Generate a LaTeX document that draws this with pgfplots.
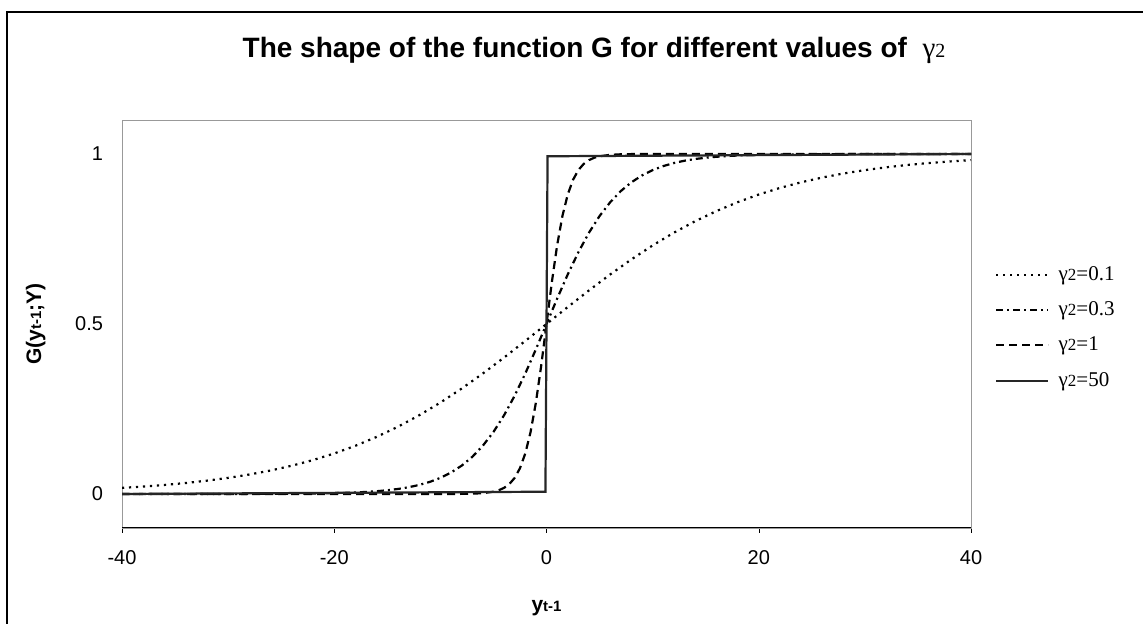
\documentclass[border=0pt]{standalone}
\usepackage{fontspec}
\setmainfont{Liberation Sans}
\newfontfamily\tms{Liberation Serif}
\usepackage{pgfplots}
\pgfplotsset{compat=1.18}

\begin{document}
\begin{tikzpicture}
% frame, bounding box and title in reference pixels (1px = 0.5pt),
% shifted so that the axis box corner (122,96) sits at the origin
\begin{scope}[x=0.5pt,y=0.5pt,shift={(-122,-96)}]
\path[use as bounding box] (0,0) rectangle (1143,624);
\draw[line width=0.7pt] (7,0) -- (7,612) -- (1143,612);
\node[font=\fontsize{14}{16}\selectfont\bfseries] at (594,574)
  {The shape of the function G for different values of \ {\tms\mdseries\fontsize{14.5}{16}\selectfont γ\fontsize{10}{11}\selectfont 2}};
\end{scope}
\begin{axis}[
  scale only axis, width=424.5pt, height=204pt,
  xmin=-40, xmax=40, ymin=-0.1, ymax=1.1,
  xtick={-40,-20,0,20,40}, ytick={0,0.5,1},
  yticklabels={0,0.5,1},
  xtick pos=bottom, xtick align=outside,
  major tick length=2.5pt,
  ytick style={draw=none},
  axis line style={draw=gray!80},
  xtick style={black},
  /pgf/number format/assume math mode=true,
  tick label style={font=\fontsize{10}{11}\selectfont},
  xticklabel style={yshift=-5pt},
  yticklabel style={xshift=-6pt},
  xlabel={\textbf{y}{\fontsize{7.5}{8}\selectfont\bfseries t-1}},
  ylabel={\textbf{G(y}{\fontsize{7.5}{8}\selectfont\bfseries t-1}\textbf{;Y)}},
  label style={font=\fontsize{10.5}{12}\selectfont},
  xlabel style={yshift=-11pt},
  ylabel style={yshift=8pt},
  legend style={at={(1.028,0.491)}, anchor=west, draw=none,
    font=\tms\fontsize{10.5}{12}\selectfont, row sep=5.2pt,
    inner sep=0pt},
  legend cell align=left,
  legend image code/.code={\draw[#1] (0pt,0pt) -- (26pt,0pt);},
  extra description/.code={\draw[black, line width=0.5pt] (rel axis cs:0,0) -- (rel axis cs:1,0);},
]
\addplot[black, line width=1.1pt, dash pattern=on 1.1pt off 2.4pt] coordinates {
(-40,0.0180) (-38,0.0219) (-36,0.0266) (-34,0.0323) (-32,0.0392) (-30,0.0474)
(-28,0.0573) (-26,0.0691) (-24,0.0832) (-22,0.0998) (-20,0.1192) (-18,0.1419)
(-16,0.1680) (-14,0.1978) (-12,0.2315) (-10,0.2689) (-8,0.3100) (-6,0.3543)
(-4,0.4013) (-2,0.4502) (0,0.5) (2,0.5498) (4,0.5987) (6,0.6457) (8,0.6900)
(10,0.7311) (12,0.7685) (14,0.8022) (16,0.8320) (18,0.8581) (20,0.8808)
(22,0.9002) (24,0.9168) (26,0.9309) (28,0.9427) (30,0.9526) (32,0.9608)
(34,0.9677) (36,0.9734) (38,0.9781) (40,0.9820)};
\addlegendentry{\ γ{\fontsize{8.5}{9}\selectfont 2}=0.1}
\addplot[black, line width=1.1pt, dash pattern=on 3.5pt off 2pt on 1pt off 2pt] coordinates {
(-40,0) (-30,0.0001) (-25,0.0006) (-22,0.0014) (-20,0.0025) (-19,0.0033)
(-18,0.0045) (-17,0.0061) (-16,0.0082) (-15,0.0110) (-14,0.0148) (-13,0.0198)
(-12,0.0266) (-11,0.0356) (-10,0.0474) (-9,0.0630) (-8,0.0832) (-7,0.1091)
(-6,0.1419) (-5,0.1824) (-4,0.2315) (-3,0.2891) (-2,0.3543) (-1,0.4256)
(0,0.5) (1,0.5744) (2,0.6457) (3,0.7109) (4,0.7685) (5,0.8176) (6,0.8581)
(7,0.8909) (8,0.9168) (9,0.9370) (10,0.9526) (11,0.9644) (12,0.9734)
(13,0.9802) (14,0.9852) (15,0.9890) (16,0.9918) (17,0.9939) (18,0.9955)
(19,0.9967) (20,0.9975) (22,0.9986) (25,0.9994) (30,0.9999) (40,1)};
\addlegendentry{\ γ{\fontsize{8.5}{9}\selectfont 2}=0.3}
\addplot[black, line width=1.1pt, dash pattern=on 4pt off 2.5pt] coordinates {
(-40,0) (-20,0) (-10,0.0000) (-8,0.0003) (-7,0.0009) (-6,0.0025) (-5,0.0067)
(-4.5,0.0110) (-4,0.0180) (-3.5,0.0293) (-3,0.0474) (-2.5,0.0759) (-2,0.1192)
(-1.5,0.1824) (-1,0.2689) (-0.5,0.3775) (0,0.5) (0.5,0.6225) (1,0.7311)
(1.5,0.8176) (2,0.8808) (2.5,0.9241) (3,0.9526) (3.5,0.9707) (4,0.9820)
(4.5,0.9890) (5,0.9933) (6,0.9975) (7,0.9991) (8,0.9997) (10,1) (20,1) (40,1)};
\addlegendentry{\ γ{\fontsize{8.5}{9}\selectfont 2}=1}
\addplot[black!85, line width=1.1pt] coordinates {
(-40,0) (-0.1,0.0067) (0,0.5) (0.1,0.9933) (40,1)};
\addlegendentry{\ γ{\fontsize{8.5}{9}\selectfont 2}=50}
\end{axis}
\end{tikzpicture}
\end{document}
